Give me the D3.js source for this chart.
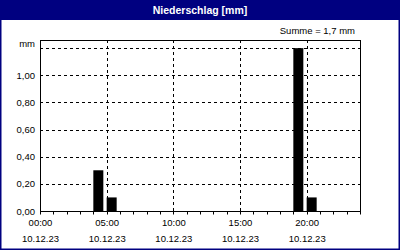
<!DOCTYPE html>
<html>
<head>
<meta charset="utf-8">
<script src="https://cdn.jsdelivr.net/npm/d3@7"></script>
<style>
  body { margin: 0; background: #fff; }
  svg text { font-family: "Liberation Sans", Arial, sans-serif; font-size: 9.5px; fill: #000; }
</style>
</head>
<body>
<svg width="400" height="250"></svg>
<script>
// hourly precipitation, 10.12.23 00:00 .. 23:00
var hours = d3.range(24);
var precip = [0, 0, 0, 0, 0.3, 0.1, 0, 0, 0, 0, 0, 0,
              0, 0, 0, 0, 0, 0, 0, 1.2, 0.1, 0, 0, 0];
var yTicks = [0, 0.2, 0.4, 0.6, 0.8, 1.0, 1.2];
var title = "Niederschlag [mm]";
var unit = "mm";

var svg = d3.select('svg');
var svgWidth = +svg.attr('width');
var svgHeight = +svg.attr('height');
var padding = {t: 40, r: 40, b: 39, l: 40};
var chartWidth = svgWidth - padding.l - padding.r;
var chartHeight = svgHeight - padding.t - padding.b;

var day = new Date(2023, 11, 10);
var xScale = d3.scaleTime()
    .domain([day, d3.timeDay.offset(day, 1)])
    .range([0, chartWidth]);

var yScale = d3.scaleLinear()
    .domain([0, 1.26])
    .range([chartHeight, 0]);

var fmtNum = d3.format(".2f");
var fmtTime = d3.timeFormat("%H:%M");
var fmtDate = d3.timeFormat("%d.%m.%y");

// background + navy frame
svg.append('rect')
    .attr('x', 0.75).attr('y', 0.75)
    .attr('width', svgWidth - 1.5).attr('height', svgHeight - 1.5)
    .attr('fill', '#fff')
    .attr('stroke', '#000080')
    .attr('stroke-width', 1.5);

svg.append('rect')
    .attr('x', 0).attr('y', 0)
    .attr('width', svgWidth).attr('height', 20)
    .attr('fill', '#000080');

svg.append('text')
    .attr('x', svgWidth / 2).attr('y', 14)
    .attr('text-anchor', 'middle')
    .style('font-weight', 'bold')
    .style('font-size', '10.5px')
    .style('fill', '#fff')
    .text(title);

var total = d3.sum(precip);
svg.append('text')
    .attr('x', 355).attr('y', 34)
    .attr('text-anchor', 'end')
    .text('Summe = ' + d3.format(".1f")(total).replace('.', ',') + ' ' + unit);

var chart = svg.append('g')
    .attr('transform', 'translate(' + [padding.l, padding.t] + ')');

// horizontal grid
chart.selectAll('.hgrid')
    .data(yTicks.filter(function(d) { return d > 0; }))
    .enter()
    .append('line')
    .attr('class', 'hgrid')
    .attr('x1', 0).attr('x2', chartWidth)
    .attr('y1', function(d) { return Math.round(yScale(d)) + 0.5; })
    .attr('y2', function(d) { return Math.round(yScale(d)) + 0.5; })
    .attr('stroke', '#000')
    .attr('stroke-dasharray', '3,3');

// vertical grid
var majorTicks = xScale.ticks(d3.timeHour.every(5)).filter(function(d) { return d > day && d < xScale.domain()[1]; });
chart.selectAll('.vgrid')
    .data(majorTicks)
    .enter()
    .append('line')
    .attr('class', 'vgrid')
    .attr('x1', function(d) { return Math.round(xScale(d)) + 0.5; })
    .attr('x2', function(d) { return Math.round(xScale(d)) + 0.5; })
    .attr('y1', 0).attr('y2', chartHeight)
    .attr('stroke', '#000')
    .attr('stroke-dasharray', '3,3');

// bars: each hour, 45 minutes wide
chart.selectAll('.bar')
    .data(hours.filter(function(h) { return precip[h] > 0; }))
    .enter()
    .append('rect')
    .attr('class', 'bar')
    .attr('x', function(h) { return xScale(d3.timeHour.offset(day, h)); })
    .attr('width', function(h) {
      var t = d3.timeHour.offset(day, h);
      return xScale(d3.timeMinute.offset(t, 45)) - xScale(t);
    })
    .attr('y', function(h) { return yScale(precip[h]); })
    .attr('height', function(h) { return chartHeight - yScale(precip[h]); })
    .attr('fill', '#000');

// plot frame
chart.append('rect')
    .attr('x', 0.5).attr('y', 0.5)
    .attr('width', chartWidth).attr('height', chartHeight)
    .attr('fill', 'none')
    .attr('stroke', '#000');

// hourly ticks below the axis
chart.selectAll('.xtick')
    .data(xScale.ticks(d3.timeHour.every(1)))
    .enter()
    .append('line')
    .attr('class', 'xtick')
    .attr('x1', function(d) { return Math.round(xScale(d)) + 0.5; })
    .attr('x2', function(d) { return Math.round(xScale(d)) + 0.5; })
    .attr('y1', chartHeight).attr('y2', chartHeight + 3.5)
    .attr('stroke', '#000');

// x labels
var xLabels = xScale.ticks(d3.timeHour.every(5)).filter(function(d) { return d < xScale.domain()[1]; });
var xl = chart.selectAll('.xlabel')
    .data(xLabels)
    .enter()
    .append('g')
    .attr('class', 'xlabel')
    .attr('transform', function(d) { return 'translate(' + (xScale(d) + 0.5) + ',0)'; });
xl.append('text')
    .attr('y', chartHeight + 15)
    .attr('text-anchor', 'middle')
    .text(function(d) { return fmtTime(d); });
xl.append('text')
    .attr('y', chartHeight + 31)
    .attr('text-anchor', 'middle')
    .text(function(d) { return fmtDate(d); });

// y labels
chart.selectAll('.ylabel')
    .data(yTicks)
    .enter()
    .append('text')
    .attr('class', 'ylabel')
    .attr('x', -5)
    .attr('y', function(d) { return d === 1.2 ? yScale(d) - 1.5 : yScale(d) + 3.5; })
    .attr('text-anchor', 'end')
    .text(function(d) { return d === 1.2 ? unit : fmtNum(d).replace('.', ','); });
</script>
</body>
</html>
